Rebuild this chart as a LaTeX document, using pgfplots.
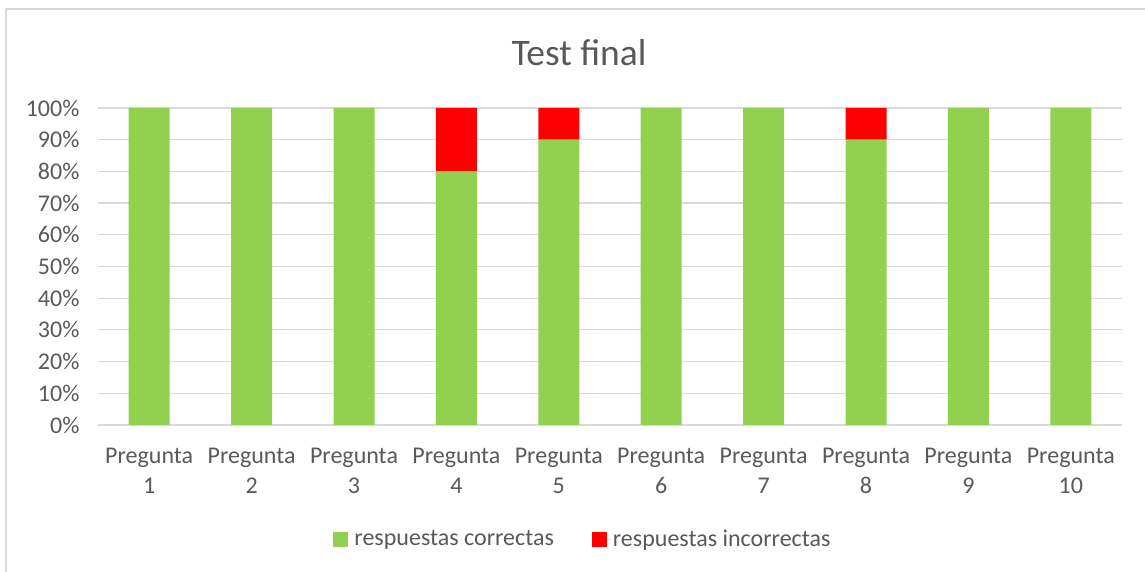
\documentclass[border=0pt]{standalone}
\usepackage{fontspec}
\setmainfont{Carlito}
\usepackage{pgfplots}
\pgfplotsset{compat=1.18}
\definecolor{grn}{HTML}{92D050}
\definecolor{rd}{HTML}{FF0000}
\definecolor{txt}{HTML}{595959}
\definecolor{grd}{HTML}{D9D9D9}
\begin{document}
\begin{tikzpicture}[x=1pt,y=1pt]
\useasboundingbox (0,0) rectangle (1145,572);
\draw[grd, line width=1.2pt] (6,0) -- (6,563) -- (1146,563);
\node[txt, font=\fontsize{37.5}{42}\selectfont] at (579,519) {Test final};
\begin{axis}[
  at={(98pt,147pt)}, anchor=south west,
  scale only axis, width=1024pt, height=317pt,
  ybar stacked, bar width=41pt,
  xmin=0.5, xmax=10.5, ymin=0, ymax=100,
  xtick={1,...,10},
  xticklabels={{Pregunta\\1},{Pregunta\\2},{Pregunta\\3},{Pregunta\\4},{Pregunta\\5},{Pregunta\\6},{Pregunta\\7},{Pregunta\\8},{Pregunta\\9},{Pregunta\\10}},
  ytick={0,10,...,100},
  yticklabel={\pgfmathprintnumber{\tick}\%},
  /pgf/number format/assume math mode=true,
  ymajorgrids, grid style={grd, line width=1.2pt},
  axis line style={draw=none},
  major tick length=0pt,
  tick label style={txt, font=\fontsize{24}{30}\selectfont},
  x tick label style={align=center, yshift=-20pt},
  y tick label style={xshift=-15pt},
  legend style={at={(0.4736,-0.36)}, anchor=center, draw=none, legend columns=2,
    font=\fontsize{24}{28}\selectfont, text=txt,
    /tikz/every even column/.append style={column sep=36pt}},
  legend image code/.code={\fill[#1] (0pt,-7.5pt) rectangle (15pt,7.5pt); \path (15pt,0) -- (19pt,0);},
]
\addplot[fill=grn, draw=none] coordinates {(1,100) (2,100) (3,100) (4,80) (5,90) (6,100) (7,100) (8,90) (9,100) (10,100)};
\addplot[fill=rd, draw=none] coordinates {(1,0) (2,0) (3,0) (4,20) (5,10) (6,0) (7,0) (8,10) (9,0) (10,0)};
\legend{respuestas correctas, respuestas incorrectas}
\end{axis}
\end{tikzpicture}
\end{document}
